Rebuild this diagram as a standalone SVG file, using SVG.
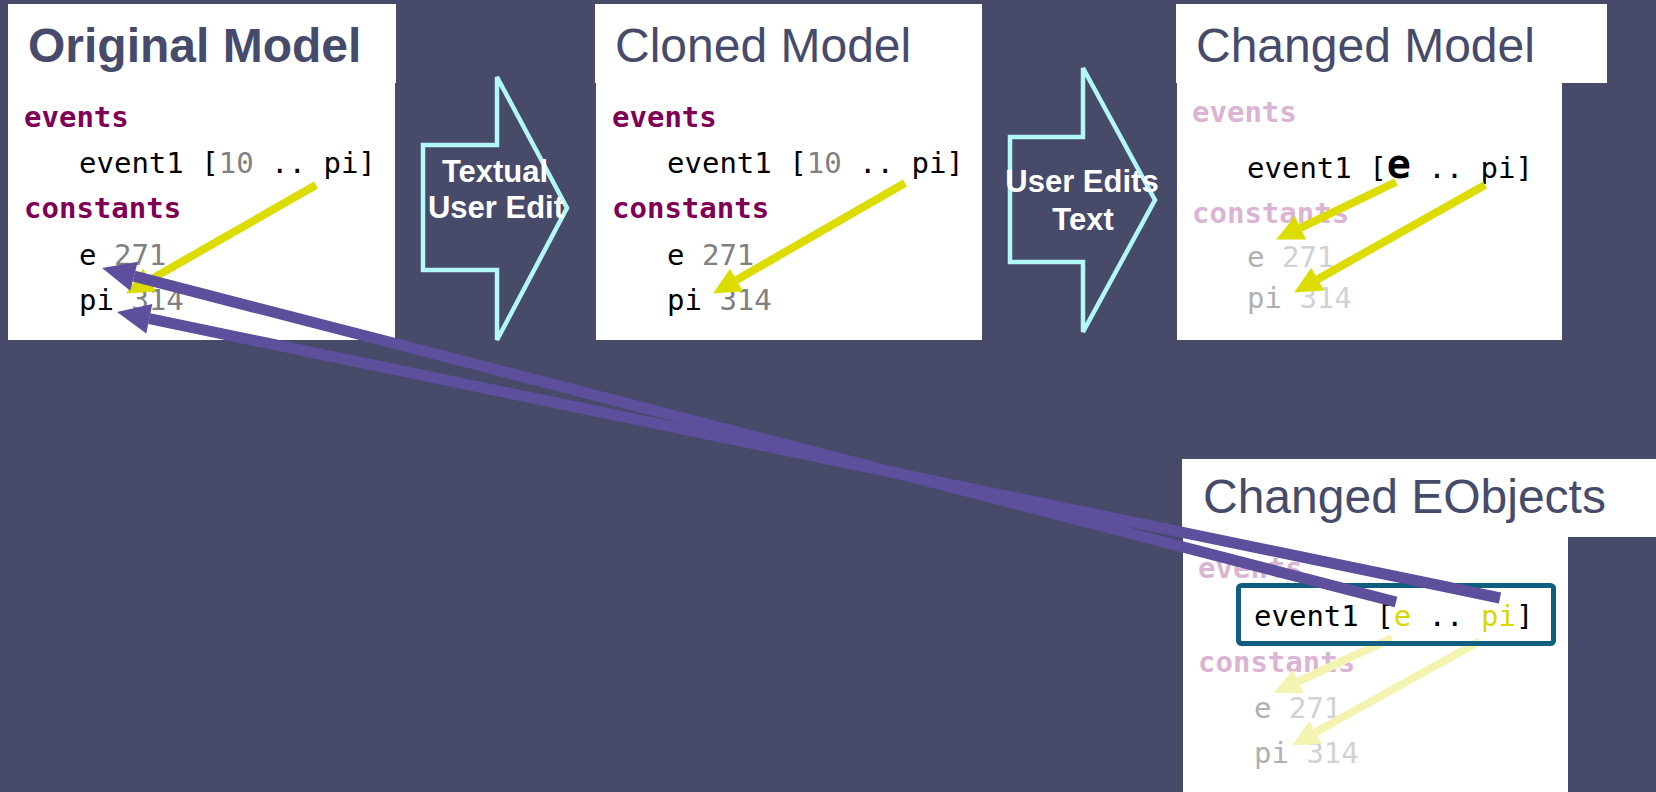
<svg xmlns="http://www.w3.org/2000/svg" width="1656" height="792" viewBox="0 0 1656 792">
<defs>
<style>
.bg{fill:#474a69}
.box{fill:#ffffff}
.title{font-family:"Liberation Sans",Arial,sans-serif;font-size:48px;fill:#474b6b}
.code{font-family:"DejaVu Sans Mono","Liberation Mono",monospace;font-size:29px;fill:#000000}
.kw{font-weight:bold;fill:#7f0055}
.kwf{font-weight:bold;fill:#dab4d2}
.num{fill:#808080}
.idf{fill:#b0b0b0}
.numf{fill:#d2d2d2}
.yl{fill:#d8d800}
.blk{fill:none;stroke:#b3f7f8;stroke-width:4.5}
.blkt{font-family:"Liberation Sans",Arial,sans-serif;font-weight:bold;font-size:31px;fill:#ffffff;text-anchor:middle}
.ya{stroke:#dcdc00;stroke-width:8;fill:none}
.pa{stroke:#f3f3b2;stroke-width:8;fill:none}
.pu{stroke:#5d4f9c;stroke-width:11;fill:none}
</style>
<marker id="hy" markerUnits="userSpaceOnUse" markerWidth="40" markerHeight="40" viewBox="0 -20 40 40" refX="0" refY="0" orient="auto" overflow="visible"><path d="M0,-13 L27,0 L0,13 z" fill="#dcdc00"/></marker>
<marker id="hpy" markerUnits="userSpaceOnUse" markerWidth="40" markerHeight="40" viewBox="0 -20 40 40" refX="0" refY="0" orient="auto" overflow="visible"><path d="M0,-13 L27,0 L0,13 z" fill="#f3f3b2"/></marker>
<marker id="hp" markerUnits="userSpaceOnUse" markerWidth="40" markerHeight="40" viewBox="0 -20 40 40" refX="0" refY="0" orient="auto" overflow="visible"><path d="M0,-15 L33,0 L0,15 z" fill="#5d4f9c"/></marker>
</defs>
<rect class="bg" x="0" y="0" width="1656" height="792"/>

<g id="original-model">
<rect class="box" x="8" y="4" width="388" height="79"/>
<rect class="box" x="8" y="82" width="387" height="258"/>
<text class="title" x="28" y="62" font-weight="bold">Original Model</text>
<text class="code kw" x="24" y="127">events</text>
<text class="code" x="79" y="173">event1 [<tspan class="num">10</tspan> .. pi]</text>
<text class="code kw" x="24" y="218">constants</text>
<text class="code" x="79" y="265">e <tspan class="num">271</tspan></text>
<text class="code" x="79" y="310">pi <tspan class="num">314</tspan></text>
</g>

<g id="arrow-textual-user-edit">
<polygon class="blk" points="423,145 497,145 497,77 567,208 497,340 497,270 423,270"/>
<text class="blkt" x="495" y="182">Textual</text>
<text class="blkt" x="496" y="218">User Edit</text>
</g>

<g id="cloned-model">
<rect class="box" x="595" y="4" width="387" height="79"/>
<rect class="box" x="596" y="82" width="386" height="258"/>
<text class="title" x="615" y="62">Cloned Model</text>
<text class="code kw" x="612" y="127">events</text>
<text class="code" x="667" y="173">event1 [<tspan class="num">10</tspan> .. pi]</text>
<text class="code kw" x="612" y="218">constants</text>
<text class="code" x="667" y="265">e <tspan class="num">271</tspan></text>
<text class="code" x="667" y="310">pi <tspan class="num">314</tspan></text>
</g>

<g id="arrow-user-edits-text">
<polygon class="blk" points="1010,137 1083,137 1083,68 1155,200 1083,332 1083,262 1010,262"/>
<text class="blkt" x="1082" y="192">User Edits</text>
<text class="blkt" x="1083" y="230">Text</text>
</g>

<g id="changed-model">
<rect class="box" x="1176" y="4" width="431" height="79"/>
<rect class="box" x="1177" y="82" width="385" height="258"/>
<text class="title" x="1196" y="62">Changed Model</text>
<text class="code kwf" x="1192" y="122">events</text>
<text class="code" x="1247" y="178">event1 [<tspan font-weight="bold" font-size="40">e</tspan> .. pi]</text>
<text class="code kwf" x="1192" y="223">constants</text>
<text class="code idf" x="1247" y="267">e <tspan class="numf">271</tspan></text>
<text class="code idf" x="1247" y="308">pi <tspan class="numf">314</tspan></text>
</g>

<g id="changed-eobjects">
<rect class="box" x="1182" y="459" width="474" height="78"/>
<rect class="box" x="1183" y="536" width="385" height="256"/>
<text class="title" x="1203" y="513">Changed EObjects</text>
<text class="code kwf" x="1198" y="578">events</text>
<text class="code" x="1254" y="626">event1 [<tspan class="yl">e</tspan> .. <tspan class="yl">pi</tspan>]</text>
<text class="code kwf" x="1198" y="672">constants</text>
<text class="code idf" x="1254" y="718">e <tspan class="numf">271</tspan></text>
<text class="code idf" x="1254" y="763">pi <tspan class="numf">314</tspan></text>
</g>

<g id="connectors">
<line class="ya" x1="316" y1="185" x2="149.6" y2="280.1" marker-end="url(#hy)"/>
<line class="ya" x1="905" y1="183" x2="736.5" y2="280" marker-end="url(#hy)"/>
<line class="ya" x1="1396" y1="182" x2="1300.5" y2="227.8" marker-end="url(#hy)"/>
<line class="ya" x1="1485" y1="185" x2="1317.7" y2="279.2" marker-end="url(#hy)"/>
<line class="pa" x1="1392" y1="638" x2="1298.3" y2="681.5" marker-end="url(#hpy)"/>
<line class="pa" x1="1480" y1="641" x2="1315.7" y2="732.3" marker-end="url(#hpy)"/>
<rect x="1238.5" y="585.5" width="315" height="58" rx="3" fill="none" stroke="#0e5f7e" stroke-width="5"/>
<line class="pu" x1="1396" y1="602" x2="134" y2="276.2" marker-end="url(#hp)"/>
<line class="pu" x1="1500" y1="598" x2="149.3" y2="318.7" marker-end="url(#hp)"/>
</g>
</svg>
